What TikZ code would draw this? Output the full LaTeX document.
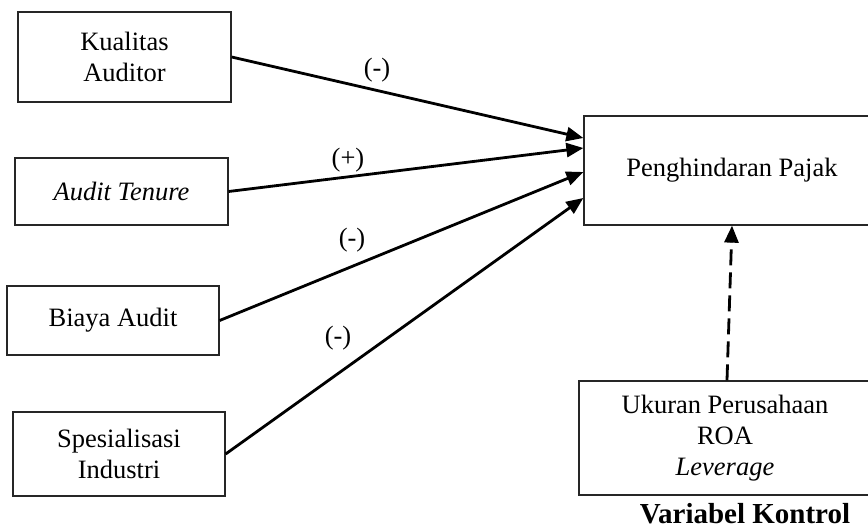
\documentclass[tikz,border=0pt]{standalone}
\usepackage{fontspec}
\setmainfont{Liberation Serif}
\usetikzlibrary{arrows.meta,calc}
\begin{document}
\begin{tikzpicture}[x=1pt,y=-1pt,
  every node/.style={font=\fontsize{26.5}{31}\selectfont},
  varbox/.style={draw=black!85,line width=1.3pt,align=center,inner sep=0pt},
  rel/.style={line width=2.8pt,-{Triangle[length=17pt,width=14pt]}},
  ctrl/.style={rel,dash pattern=on 16pt off 7pt},
  sign/.style={inner sep=0pt}]
\useasboundingbox (0,0) rectangle (868,529);
\node[varbox,minimum width=213pt,minimum height=90pt] (ka) at (124.5,57) {Kualitas\\Auditor};
\node[varbox,minimum width=213pt,minimum height=67pt] (at) at (121.5,191.5) {\textit{Audit Tenure}};
\node[varbox,minimum width=212pt,minimum height=69pt] (ba) at (113,320.5) {Biaya Audit};
\node[varbox,minimum width=212pt,minimum height=84pt] (si) at (119,454) {Spesialisasi\\Industri};
\node[varbox,minimum width=296pt,minimum height=109pt] (ph) at (732,170.5) {Penghindaran Pajak};
\node[varbox,minimum width=292pt,minimum height=114pt] (vk) at (725,438) {Ukuran Perusahaan\\ROA\\\textit{Leverage}};
\node[font=\fontsize{29}{33}\selectfont\bfseries] (vklabel) at (745,514) {Variabel Kontrol};
\draw[rel] (ka.east) -- ([yshift=32.5pt]ph.west);
\draw[rel] (at.east) -- ([yshift=22.5pt]ph.west);
\draw[rel] (ba.east) -- ([yshift=-1.5pt]ph.west);
\draw[rel] (si.east) -- ([yshift=-27.5pt]ph.west);
\draw[ctrl] ([xshift=2pt]vk.north) -- (ph.south);
\node[sign] (s1) at (377,70) {(-)};
\node[sign] (s2) at (348,160) {(+)};
\node[sign] (s3) at (352,240) {(-)};
\node[sign] (s4) at (338,338) {(-)};
\end{tikzpicture}
\end{document}
